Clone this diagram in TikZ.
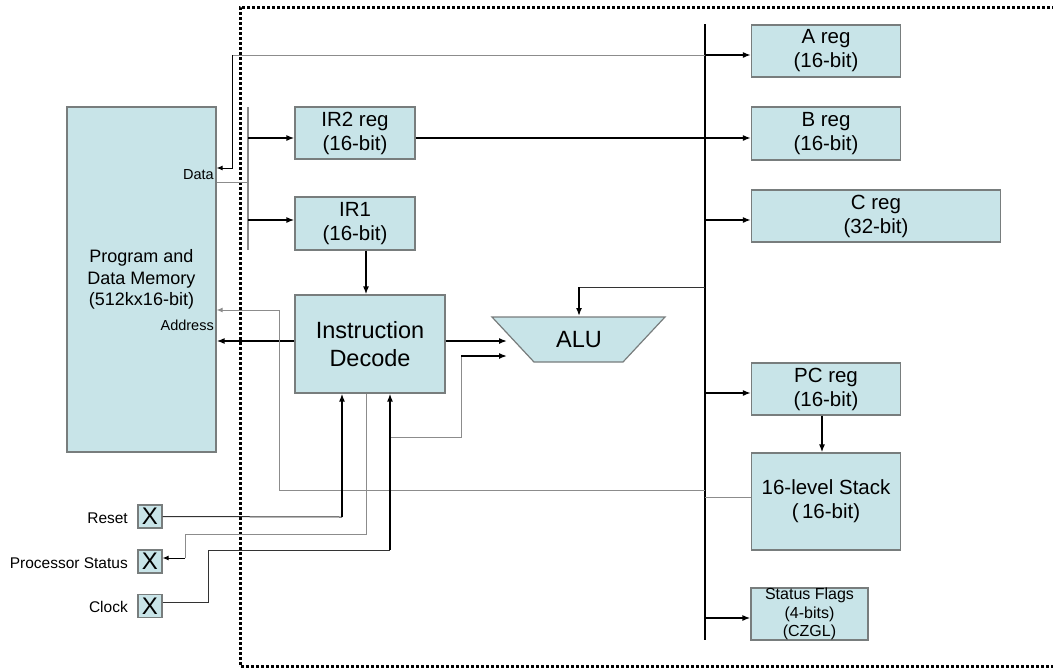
\documentclass[tikz,border=0pt]{standalone}
\usepackage{fontspec}
\setmainfont{Liberation Sans}
\usetikzlibrary{arrows.meta}
\definecolor{boxblue}{RGB}{200,228,232}
\definecolor{boxedge}{RGB}{120,125,125}
\definecolor{wire}{RGB}{140,140,140}
\tikzset{
  blk/.style={draw=boxedge,line width=1.2pt,fill=boxblue,inner sep=0pt,align=center,font=\fontsize{20.5}{24}\selectfont},
  xbox/.style={draw=boxedge,line width=1.2pt,fill=boxblue,inner sep=0pt,minimum width=24pt,minimum height=23pt,font=\fontsize{24}{24}\selectfont},
  lbl/.style={inner sep=0pt,font=\fontsize{15.5}{18}\selectfont},
  arr/.style={line width=1.5pt,-{Latex[length=8pt,width=6pt]}},
  sarr/.style={line width=1pt,-{Latex[length=6pt,width=5pt]}},
  gline/.style={draw=wire,line width=1pt},
  tline/.style={draw=black!80,line width=1pt},
  bline/.style={line width=1.5pt},
}
\begin{document}
\begin{tikzpicture}[x=1pt,y=-1pt]
\useasboundingbox (0,0) rectangle (1053,670);
% dotted frame
\draw[line width=3pt,dash pattern=on 3pt off 2pt] (1060,7) -- (240,7) -- (240,666) -- (1060,666);

% memory
\node[blk,minimum width=149pt,minimum height=345pt,font=\fontsize{18}{21.5}\selectfont] (mem) at (141.5,279.5) {Program and\\Data Memory\\(512kx16-bit)};
\node[lbl,anchor=east,font=\fontsize{14.5}{16}\selectfont] (datal) at (214,175) {Data};
\node[lbl,anchor=east,font=\fontsize{14.5}{16}\selectfont] (addrl) at (214,325) {Address};

% registers
\node[blk,minimum width=149pt,minimum height=52pt] (areg) at (826,51) {A reg\\(16-bit)};
\node[blk,minimum width=149pt,minimum height=53pt] (breg) at (826,133.5) {B reg\\(16-bit)};
\node[blk,minimum width=249pt,minimum height=52pt] (creg) at (876,216) {C reg\\(32-bit)};
\node[blk,minimum width=149pt,minimum height=52pt] (pcreg) at (826,389) {PC reg\\(16-bit)};
\node[blk,minimum width=149pt,minimum height=97pt] (stack) at (826,501.5) {16-level Stack\\(\,16-bit)};
\node[blk,minimum width=117pt,minimum height=52pt,font=\fontsize{16}{18.5}\selectfont] (flags) at (809.5,614) {Status Flags\\(4-bits)\\(CZGL)};
\node[blk,minimum width=120pt,minimum height=52pt] (ir2) at (355,133) {IR2 reg\\(16-bit)};
\node[blk,minimum width=120pt,minimum height=53pt] (ir1) at (355,223.5) {IR1\\(16-bit)};
\node[blk,minimum width=150pt,minimum height=98pt,font=\fontsize{23.5}{28}\selectfont] (dec) at (370,344) {Instruction\\Decode};

% ALU
\draw[draw=boxedge,line width=1.2pt,fill=boxblue] (492,317) -- (665,317) -- (623,362) -- (534,362) -- cycle;
\node[inner sep=0pt,font=\fontsize{23.5}{23.5}\selectfont] (alu) at (579,340) {ALU};

% external pins
\node[xbox] (xr) at (150,516.5) {X};
\node[xbox] (xp) at (150,561.5) {X};
\node[xbox] (xc) at (150,606) {X};
\node[lbl,anchor=east] (lr) at (128,518) {Reset};
\node[lbl,anchor=east] (lp) at (128,563) {Processor Status};
\node[lbl,anchor=east] (lc) at (128,607) {Clock};

% buses
\coordinate (bustop) at (705,24);
\coordinate (busbot) at (705,640);
\draw[line width=1.1pt] (bustop) -- (busbot);
\coordinate (irtop) at (248,107);
\coordinate (irbot) at (248,250);
\draw[gline,line width=1.5pt] (irtop) -- (irbot);

% A reg / data path
\coordinate (ba) at (705,55);
\coordinate (ta) at (232,55);
\draw[gline] (ba) -- (ta);
\draw[sarr] (ta) -- (232,168) -- (mem.east |- 0,168);
\draw[arr] (ba) -- (areg.west |- ba);
\draw[gline] (mem.east |- 0,182) -- (irtop |- 0,182);

% IR
\draw[arr] (irtop |- 0,138) -- (ir2.west |- 0,138);
\draw[arr] (irtop |- 0,220) -- (ir1.west |- 0,220);
\draw[arr] (ir2.east |- 0,138) -- (breg.west |- 0,138);
\draw[arr] (ir1.south -| 366,0) -- (dec.north -| 366,0);

% bus to registers
\draw[arr] (bustop |- 0,220) -- (creg.west |- 0,220);
\draw[arr] (bustop |- 0,393) -- (pcreg.west |- 0,393);
\draw[gline] (bustop |- 0,497) -- (stack.west |- 0,497);
\draw[arr] (bustop |- 0,618) -- (flags.west |- 0,618);
\draw[arr] (pcreg.south -| 822,0) -- (stack.north -| 822,0);

% ALU connections
\draw[tline] (bustop |- 0,287) -- (579,287);
\draw[arr] (579,287) -- (579,316);
\draw[arr] (dec.east |- 0,341) -- (507,341);
\draw[gline] (390,437) -- (461,437) -- (461,356);
\draw[arr] (461,356) -- (507,356);

% address
\draw[arr] (dec.west |- 0,341) -- (mem.east |- 0,341);
\draw[gline] (bustop |- 0,490) -- (279,490) -- (279,310);
\draw[sarr,draw=wire] (279,310) -- (mem.east |- 0,310);

% pins
\draw[tline] (xr.east) -- (342,517);
\draw[arr] (342,517) -- (dec.south -| 342,0);
\draw[gline] (dec.south -| 366,0) -- (366,534) -- (185,534) -- (185,558);
\draw[sarr] (185,558) -- (xp.east |- 0,558);
\draw[tline] (xc.east |- 0,602) -- (208,602) -- (208,550) -- (390,550);
\draw[arr] (390,550) -- (dec.south -| 390,0);
\end{tikzpicture}
\end{document}
